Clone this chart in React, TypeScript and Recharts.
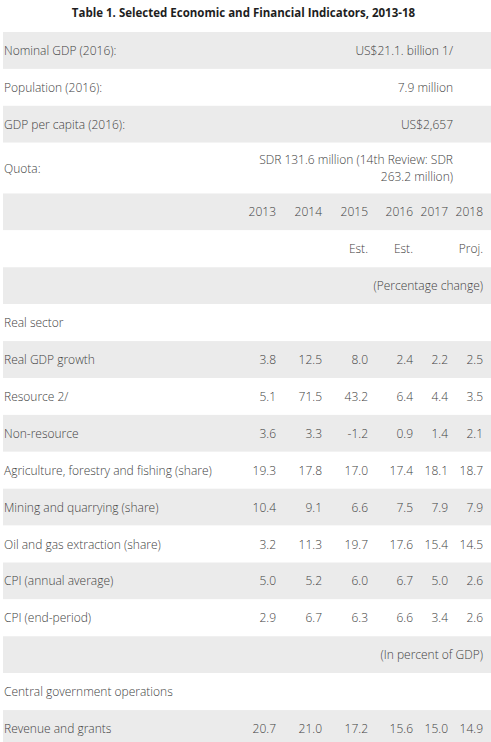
import React from 'react';
import { BarChart, Bar, XAxis, YAxis } from 'recharts';

const years = ['2013', '2014', '2015', '2016', '2017', '2018'];
const yearNotes = ['', '', 'Est.', 'Est.', '', 'Proj.'];

const summaryLabels = ['Nominal GDP (2016):', 'Population (2016):', 'GDP per capita (2016):', 'Quota:'];
const summaryValues = [
  'US$21.1. billion 1/',
  '7.9 million',
  'US$2,657',
  'SDR 131.6 million (14th Review: SDR\n263.2 million)',
];

const realSectorLabels = [
  'Real GDP growth',
  'Resource 2/',
  'Non-resource',
  'Agriculture, forestry and fishing (share)',
  'Mining and quarrying (share)',
  'Oil and gas extraction (share)',
  'CPI (annual average)',
  'CPI (end-period)',
];
const realGdpGrowth = [3.8, 12.5, 8.0, 2.4, 2.2, 2.5];
const resource = [5.1, 71.5, 43.2, 6.4, 4.4, 3.5];
const nonResource = [3.6, 3.3, -1.2, 0.9, 1.4, 2.1];
const agriculture = [19.3, 17.8, 17.0, 17.4, 18.1, 18.7];
const mining = [10.4, 9.1, 6.6, 7.5, 7.9, 7.9];
const oilGas = [3.2, 11.3, 19.7, 17.6, 15.4, 14.5];
const cpiAverage = [5.0, 5.2, 6.0, 6.7, 5.0, 2.6];
const cpiEnd = [2.9, 6.7, 6.3, 6.6, 3.4, 2.6];
const realSectorValues = [realGdpGrowth, resource, nonResource, agriculture, mining, oilGas, cpiAverage, cpiEnd];

const fiscalLabels = ['Revenue and grants'];
const revenueGrants = [20.7, 21.0, 17.2, 15.6, 15.0, 14.9];
const fiscalValues = [revenueGrants];

type Row =
  | { kind: 'summary'; label: string; text: string }
  | { kind: 'years'; cells: string[] }
  | { kind: 'unit'; text: string }
  | { kind: 'section'; label: string }
  | { kind: 'data'; label: string; values: number[] };

const rows: Row[] = [
  ...summaryLabels.map((label, i) => ({ kind: 'summary' as const, label, text: summaryValues[i] })),
  { kind: 'years', cells: years },
  { kind: 'years', cells: yearNotes },
  { kind: 'unit', text: '(Percentage change)' },
  { kind: 'section', label: 'Real sector' },
  ...realSectorLabels.map((label, i) => ({ kind: 'data' as const, label, values: realSectorValues[i] })),
  { kind: 'unit', text: '(In percent of GDP)' },
  { kind: 'section', label: 'Central government operations' },
  ...fiscalLabels.map((label, i) => ({ kind: 'data' as const, label, values: fiscalValues[i] })),
];

// altura de cada linha: uma linha extra de texto aumenta a faixa
const lineCount = (row: Row) => (row.kind === 'summary' ? row.text.split('\n').length : 1);
const rowWeight = (row: Row) => 1 + 0.375 * (lineCount(row) - 1);

const chartData = [
  rows.reduce<Record<string, number | string>>(
    (acc, row, i) => {
      acc[`r${i}`] = rowWeight(row);
      return acc;
    },
    { name: 'table' }
  ),
];
const totalWeight = rows.reduce((sum, row) => sum + rowWeight(row), 0);

const FONT = "'Open Sans', 'DejaVu Sans', sans-serif";
const TEXT_COLOR = '#424242';
const BAND_COLOR = '#ebebeb';
// distância da borda direita até o fim de cada coluna
const COLUMN_RIGHT = [215, 169, 123, 78, 43, 8];
const SUMMARY_RIGHT = 38;
const LINE_HEIGHT = 16.5;

const RowShape = (props: any) => {
  const { x, y, width, height, row, shaded } = props;
  const top = Math.min(y, y + height);
  const h = Math.abs(height);
  const mid = top + h / 2;
  const right = x + width;
  const textProps = {
    fontFamily: FONT,
    fontSize: 12,
    fontWeight: 300,
    fill: TEXT_COLOR,
    dominantBaseline: 'central' as const,
  };
  const r = row as Row;

  return (
    <g>
      <rect x={x} y={top} width={width} height={h} fill={shaded ? BAND_COLOR : '#ffffff'} />
      {'label' in r && (
        <text x={x + 1} y={mid} {...textProps}>
          {r.label}
        </text>
      )}
      {r.kind === 'summary' &&
        r.text.split('\n').map((line, j, arr) => (
          <text
            key={j}
            x={right - SUMMARY_RIGHT}
            y={mid + (j - (arr.length - 1) / 2) * LINE_HEIGHT}
            textAnchor="end"
            {...textProps}
          >
            {line}
          </text>
        ))}
      {r.kind === 'years' &&
        r.cells.map((cell, j) => (
          <text key={j} x={right - COLUMN_RIGHT[j]} y={mid} textAnchor="end" {...textProps}>
            {cell}
          </text>
        ))}
      {r.kind === 'unit' && (
        <text x={right - COLUMN_RIGHT[5]} y={mid} textAnchor="end" {...textProps}>
          {r.text}
        </text>
      )}
      {r.kind === 'data' &&
        r.values.map((v, j) => (
          <text key={j} x={right - COLUMN_RIGHT[j]} y={mid} textAnchor="end" {...textProps}>
            {v.toFixed(1)}
          </text>
        ))}
    </g>
  );
};

const App = () => {
  return (
    <div style={{ position: 'relative', width: 491, height: 742, overflow: 'hidden' }}>
      <style>{'html, body { margin: 0; overflow: hidden; background: #fff; }'}</style>
      <div
        style={{
          position: 'absolute',
          top: 4,
          left: 0,
          width: 487,
          textAlign: 'center',
          fontFamily: FONT,
          fontWeight: 700,
          fontSize: 11.5,
          color: '#1e1e1e',
          lineHeight: '18px',
        }}
      >
        Table 1. Selected Economic and Financial Indicators, 2013-18
      </div>
      <BarChart
        width={491}
        height={747}
        data={chartData}
        margin={{ top: 32, right: 0, bottom: 0, left: 3 }}
        barCategoryGap={0}
        barGap={0}
      >
        <XAxis dataKey="name" type="category" hide />
        <YAxis type="number" domain={[0, totalWeight]} reversed hide />
        {rows.map((row, i) => (
          <Bar
            key={i}
            dataKey={`r${i}`}
            stackId="rows"
            isAnimationActive={false}
            shape={(p: any) => <RowShape {...p} row={row} shaded={i % 2 === 0} />}
          />
        ))}
      </BarChart>
    </div>
  );
};

export default App;
